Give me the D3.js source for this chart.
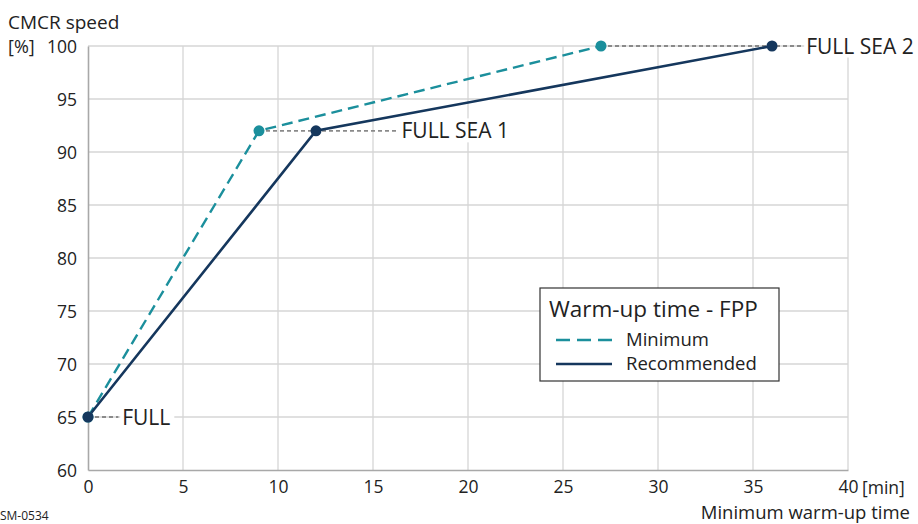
<!DOCTYPE html>
<html><head><meta charset="utf-8">
<script src="https://cdn.jsdelivr.net/npm/d3@7"></script>
<style>body{margin:0;background:#fff}svg{display:block;font-family:"Open Sans","Noto Sans",sans-serif}</style>
</head><body><svg id="c" width="918" height="524"></svg>
<script>
const minimumTime = [0, 9, 27];
const minimumSpeed = [65, 92, 100];
const recommendedTime = [0, 12, 36];
const recommendedSpeed = [65, 92, 100];
const xTicks = [0, 5, 10, 15, 20, 25, 30, 35, 40];
const yTicks = [60, 65, 70, 75, 80, 85, 90, 95, 100];
const stageLabels = ["FULL", "FULL SEA 1", "FULL SEA 2"];
const seriesNames = ["Minimum", "Recommended"];

const svg = d3.select("#c");
const x = d3.scaleLinear().domain([0, 40]).range([88, 848]);
const y = d3.scaleLinear().domain([60, 100]).range([470, 46]);
const teal = "#1b8f9c", navy = "#15375d", txt = "#222";

// grid
svg.append("g").selectAll("line").data(xTicks.slice(1)).join("line")
  .attr("x1", d => x(d)).attr("x2", d => x(d)).attr("y1", y(60)).attr("y2", y(100))
  .attr("stroke", "#d6d6d6").attr("stroke-width", 1.3);
svg.append("g").selectAll("line").data(yTicks.slice(1)).join("line")
  .attr("x1", x(0)).attr("x2", x(40)).attr("y1", d => y(d)).attr("y2", d => y(d))
  .attr("stroke", "#d6d6d6").attr("stroke-width", 1.3);

// axes
const xAxis = svg.append("g").attr("transform", `translate(0,${y(60)})`)
  .call(d3.axisBottom(x).tickValues(xTicks).tickSize(0).tickPadding(11));
const yAxis = svg.append("g").attr("transform", `translate(${x(0)},0)`)
  .call(d3.axisLeft(y).tickValues(yTicks).tickSize(0).tickPadding(11));
[xAxis, yAxis].forEach(a => {
  a.select(".domain").attr("stroke", "#a8a8a8").attr("stroke-width", 1.6);
  a.selectAll("text").attr("font-size", 17.5).attr("fill", txt).attr("font-family", '"Open Sans",sans-serif');
});
yAxis.selectAll("text").attr("dy", "0.35em");

svg.append("text").attr("x", x(40) + 14).attr("y", 493.5).attr("font-size", 17.5).attr("fill", txt).text("[min]");
svg.append("text").attr("x", 910).attr("y", 518.5).attr("text-anchor", "end").attr("font-size", 18.5).attr("fill", txt).text("Minimum warm-up time");
svg.append("text").attr("x", 8).attr("y", 29).attr("font-size", 19).attr("fill", txt).text("CMCR speed");
svg.append("text").attr("x", 8).attr("y", 53).attr("font-size", 18).attr("fill", txt).text("[%]");
svg.append("text").attr("x", 0).attr("y", 520).attr("font-size", 12).attr("fill", txt).text("SM-0534");

// dashed leaders
const leaders = [
  {x1: minimumTime[0], x2: 1.6, v: minimumSpeed[0], lx: 1.8, label: stageLabels[0]},
  {x1: minimumTime[1], x2: 16.3, v: minimumSpeed[1], lx: 16.5, label: stageLabels[1]},
  {x1: minimumTime[2], x2: 37.6, v: minimumSpeed[2], lx: 37.8, label: stageLabels[2]}
];
leaders.forEach(l => {
  svg.append("line").attr("x1", x(l.x1)).attr("x2", x(l.x2)).attr("y1", y(l.v)).attr("y2", y(l.v))
    .attr("stroke", "#8a8a8a").attr("stroke-width", 1.8).attr("stroke-dasharray", "4,3");
  const t = svg.append("text").attr("x", x(l.lx)).attr("y", y(l.v)).attr("dy", "0.36em")
    .attr("font-size", 21).attr("fill", txt).text(l.label);
  const b = t.node().getBBox();
  svg.insert("rect", () => t.node()).attr("x", b.x - 2).attr("y", b.y + 2).attr("width", b.width + 6).attr("height", b.height - 4).attr("fill", "#fff");
});

// series
const line = d3.line().x(d => x(d[0])).y(d => y(d[1]));
const minData = minimumTime.map((t, i) => [t, minimumSpeed[i]]);
const recData = recommendedTime.map((t, i) => [t, recommendedSpeed[i]]);
svg.append("path").datum(minData).attr("d", line).attr("fill", "none").attr("stroke", teal)
  .attr("stroke-width", 2.4).attr("stroke-dasharray", "11,6");
svg.append("path").datum(recData).attr("d", line).attr("fill", "none").attr("stroke", navy).attr("stroke-width", 2.6);
svg.append("g").selectAll("circle").data(minData).join("circle")
  .attr("cx", d => x(d[0])).attr("cy", d => y(d[1])).attr("r", 5.5).attr("fill", teal);
svg.append("g").selectAll("circle").data(recData).join("circle")
  .attr("cx", d => x(d[0])).attr("cy", d => y(d[1])).attr("r", 5.5).attr("fill", navy);

// legend
const lg = svg.append("g").attr("transform", "translate(540,288)");
lg.append("rect").attr("width", 239).attr("height", 93).attr("fill", "#fff").attr("stroke", "#333").attr("stroke-width", 1.2);
lg.append("text").attr("x", 9).attr("y", 29).attr("font-size", 22.5).attr("fill", txt).text("Warm-up time - FPP");
seriesNames.forEach((n, i) => {
  const yy = 52 + i * 24;
  lg.append("line").attr("x1", 16).attr("x2", 72).attr("y1", yy).attr("y2", yy)
    .attr("stroke", i === 0 ? teal : navy).attr("stroke-width", 2.6)
    .attr("stroke-dasharray", i === 0 ? "14,7" : null);
  lg.append("text").attr("x", 86).attr("y", yy).attr("dy", "0.35em").attr("font-size", 18.5).attr("fill", txt).text(n);
});
</script></body></html>
